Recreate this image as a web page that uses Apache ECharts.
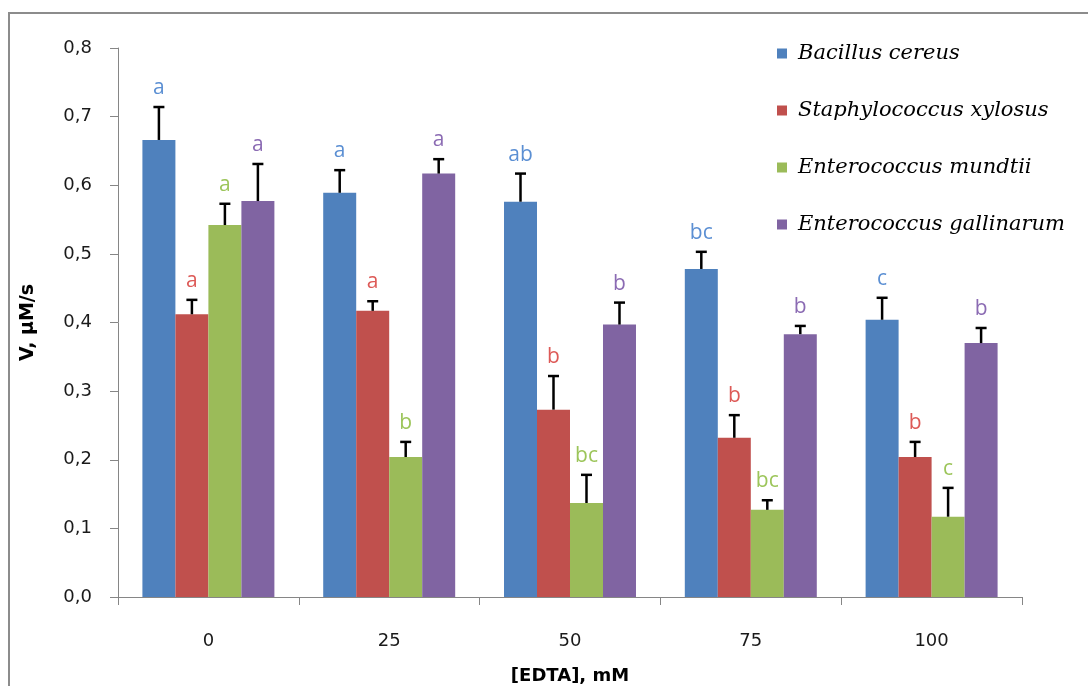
<!DOCTYPE html>
<html>
<head>
<meta charset="utf-8">
<script src="https://cdn.jsdelivr.net/npm/echarts@6/dist/echarts.min.js"></script>
<style>html,body{margin:0;padding:0;background:#fff}#c{width:1088px;height:686px}</style>
</head>
<body>
<div id="c"></div>
<script>
const categories = ['0', '25', '50', '75', '100'];
const seriesNames = ['Bacillus cereus', 'Staphylococcus xylosus', 'Enterococcus mundtii', 'Enterococcus gallinarum'];
const bacillus = [0.666, 0.589, 0.576, 0.478, 0.404];
const bacillusErr = [0.048, 0.033, 0.041, 0.025, 0.032];
const bacillusLetters = ['a', 'a', 'ab', 'bc', 'c'];
const staph = [0.412, 0.417, 0.273, 0.232, 0.204];
const staphErr = [0.021, 0.014, 0.049, 0.033, 0.022];
const staphLetters = ['a', 'a', 'b', 'b', 'b'];
const mundtii = [0.542, 0.204, 0.137, 0.127, 0.117];
const mundtiiErr = [0.031, 0.022, 0.041, 0.014, 0.042];
const mundtiiLetters = ['a', 'b', 'bc', 'bc', 'c'];
const gallinarum = [0.577, 0.617, 0.397, 0.383, 0.370];
const gallinarumErr = [0.054, 0.021, 0.032, 0.012, 0.022];
const gallinarumLetters = ['a', 'a', 'b', 'b', 'b'];
const yTicks = [0, 0.1, 0.2, 0.3, 0.4, 0.5, 0.6, 0.7, 0.8];

const values = [bacillus, staph, mundtii, gallinarum];
const errs = [bacillusErr, staphErr, mundtiiErr, gallinarumErr];
const letters = [bacillusLetters, staphLetters, mundtiiLetters, gallinarumLetters];
const barColors = ['#4F81BD', '#C0504D', '#9BBB59', '#8064A2'];
const letterColors = ['#5B8FD3', '#DD5A57', '#9CC55A', '#8B6BB3'];
const GAP = 0.27;

const series = [];
seriesNames.forEach((name, k) => {
  series.push({
    name: name, type: 'bar', data: values[k], barGap: 0, barCategoryGap: (GAP * 100) + '%',
    itemStyle: { color: barColors[k] }, z: 2
  });
});
seriesNames.forEach((name, k) => {
  series.push({
    name: name + ' err', type: 'custom', z: 5,
    data: values[k].map((v, i) => [i, v, errs[k][i], letters[k][i]]),
    encode: { x: 0, y: 1 },
    renderItem: function (params, api) {
      const i = api.value(0), v = api.value(1), e = api.value(2);
      const band = api.size([1, 0])[0];
      const bw = band * (1 - GAP) / 4;
      const base = api.coord([i, v]);
      const top = api.coord([i, v + e]);
      const x = base[0] + (k - 1.5) * bw;
      const cap = 5.5;
      return {
        type: 'group',
        children: [
          { type: 'line', shape: { x1: x, y1: base[1], x2: x, y2: top[1] }, style: { stroke: '#000', lineWidth: 2.5 } },
          { type: 'line', shape: { x1: x - cap, y1: top[1], x2: x + cap, y2: top[1] }, style: { stroke: '#000', lineWidth: 2.5 } },
          { type: 'text', style: { x: x, y: top[1] - 19, text: letters[k][i], fill: letterColors[k], font: '21px "Open Sans"', align: 'center', verticalAlign: 'middle' } }
        ]
      };
    }
  });
});

const chart = echarts.init(document.getElementById('c'), null, { renderer: 'canvas' });
chart.setOption({
  backgroundColor: '#fff',
  animation: false,
  grid: { left: 118, right: 66, top: 48, bottom: 89, containLabel: false, outerBoundsMode: 'none' },
  graphic: [{
    type: 'rect', shape: { x: 9, y: 13, width: 1200, height: 1000 },
    style: { fill: 'none', stroke: '#8C8C8C', lineWidth: 2 }, z: 0
  }],
  legend: {
    data: seriesNames, orient: 'vertical', left: 772, top: 38, itemGap: 36,
    itemWidth: 10, itemHeight: 10, icon: 'rect',
    textStyle: { fontFamily: 'DejaVu Serif', fontStyle: 'italic', fontSize: 21, color: '#000', padding: [0, 0, 0, 6] }
  },
  xAxis: {
    type: 'category', data: categories,
    name: '[EDTA], mM', nameLocation: 'middle', nameGap: 70,
    nameTextStyle: { fontFamily: 'DejaVu Sans', fontWeight: 'bold', fontSize: 18, color: '#000' },
    axisLine: { lineStyle: { color: '#868686', width: 1 } },
    axisTick: { show: true, length: 8, lineStyle: { color: '#868686' } },
    axisLabel: { margin: 35, fontFamily: 'DejaVu Sans', fontSize: 18, color: '#1a1a1a' }
  },
  yAxis: {
    type: 'value', min: 0, max: 0.8, interval: 0.1,
    name: 'V, µM/s', nameLocation: 'middle', nameGap: 80, nameRotate: 90,
    nameTextStyle: { fontFamily: 'DejaVu Sans', fontWeight: 'bold', fontSize: 19, color: '#000' },
    axisLine: { show: true, lineStyle: { color: '#868686', width: 1 } },
    axisTick: { show: true, length: 8, lineStyle: { color: '#868686' } },
    splitLine: { show: false },
    axisLabel: {
      margin: 26, fontFamily: 'DejaVu Sans', fontSize: 18, color: '#1a1a1a',
      formatter: v => yTicks.includes(Math.round(v * 10) / 10) ? v.toFixed(1).replace('.', ',') : ''
    }
  },
  series: series
});
</script>
</body>
</html>
